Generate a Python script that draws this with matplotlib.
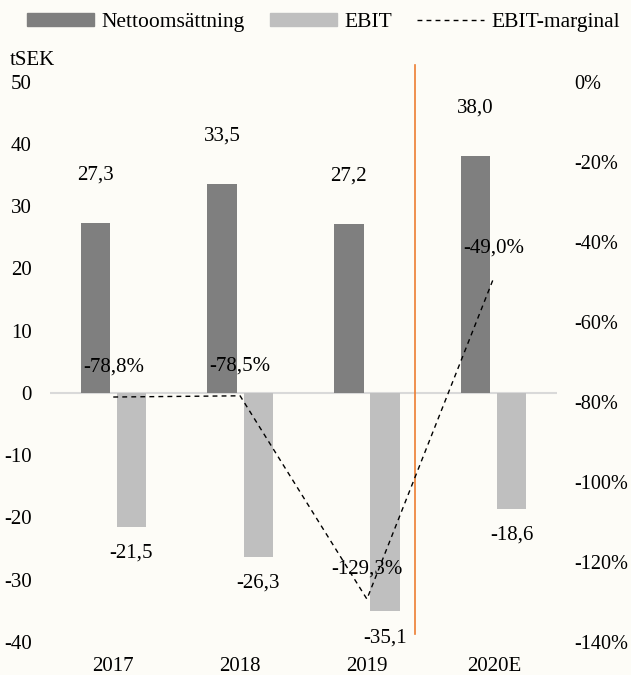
import numpy as np
import matplotlib
matplotlib.use("Agg")
from matplotlib import pyplot as plt
from matplotlib.patches import Patch
from matplotlib.lines import Line2D

years = ["2017", "2018", "2019", "2020E"]
netto = [27.3, 33.5, 27.2, 38.0]
ebit = [-21.5, -26.3, -35.1, -18.6]
marginal = [-78.8, -78.5, -129.3, -49.0]  # procent

def sv(v, dec=1):
    return f"{v:.{dec}f}".replace(".", ",")

plt.rcParams["font.family"] = ["Liberation Serif", "DejaVu Serif"]
plt.rcParams["font.size"] = 15
plt.rcParams["axes.unicode_minus"] = False

bg = "#fdfcf7"
c_netto = "#7f7f7f"
c_ebit = "#bfbfbf"

fig = plt.figure(figsize=(6.31, 6.75), dpi=100, facecolor=bg)
ax = fig.add_axes([0.079, 0.049, 0.804, 0.830], facecolor=bg)
ax2 = ax.twinx()

x = np.arange(len(years))
w = 0.23
off = 0.142

ax.bar(x - off, netto, w, color=c_netto, zorder=2)
ax.bar(x + off, ebit, w, color=c_ebit, zorder=2)
ax.axhline(0, color="#d9d9d9", lw=1.5, zorder=1)

# prognosgräns mellan 2019 och 2020E
split_x = 2.38
ax.axvline(split_x, ymin=0.015, ymax=1.03, color="#ed7d31", lw=1.2, clip_on=False, zorder=3)

for xi, v in zip(x, netto):
    ax.annotate(sv(v), (xi - off, v), xytext=(0, 34.5), textcoords="offset points",
                ha="center", va="center")
for xi, v in zip(x, ebit):
    ax.annotate(sv(v), (xi + off, v), xytext=(0, -19), textcoords="offset points",
                ha="center", va="center")

m = np.array(marginal) / 100
ax2.plot(x, m, color="black", lw=1.0, linestyle=(0, (3.5, 3)), zorder=4)
for xi, v in zip(x, marginal):
    ax2.annotate(sv(v) + "%", (xi, v / 100), xytext=(0, 21.5), textcoords="offset points",
                 ha="center", va="center")

ax.set_xlim(-0.5, 3.5)
ax.set_ylim(-40, 50)
ax2.set_ylim(-1.4, 0)
ax.set_yticks(np.arange(-40, 51, 10))
ax2.set_yticks(np.arange(-1.4, 0.01, 0.2))
ax2.set_yticklabels([f"{round(t * 100)}%" for t in np.arange(-1.4, 0.01, 0.2)])
ax.set_xticks(x)
ax.set_xticklabels(years)

for a in (ax, ax2):
    for s in a.spines.values():
        s.set_visible(False)
    a.tick_params(length=0)
ax.tick_params(axis="y", pad=13)
ax2.tick_params(axis="y", pad=12.5, labelsize=14.6)
ax.tick_params(axis="x", pad=11)

fig.text(0.016, 0.911, "tSEK", ha="left", va="center")

handles = [
    Patch(color=c_netto, label="Nettoomsättning"),
    Patch(color=c_ebit, label="EBIT"),
    Line2D([], [], color="black", lw=1.0, linestyle=(0, (3.5, 3)), label="EBIT-marginal"),
]
fig.legend(handles=handles, loc="center", bbox_to_anchor=(0.513, 0.967), ncol=3,
           frameon=False, fontsize=15.5, handlelength=3.1, handleheight=0.6,
           handletextpad=0.37, columnspacing=1.16)

fig.savefig("out.png", facecolor=bg)
